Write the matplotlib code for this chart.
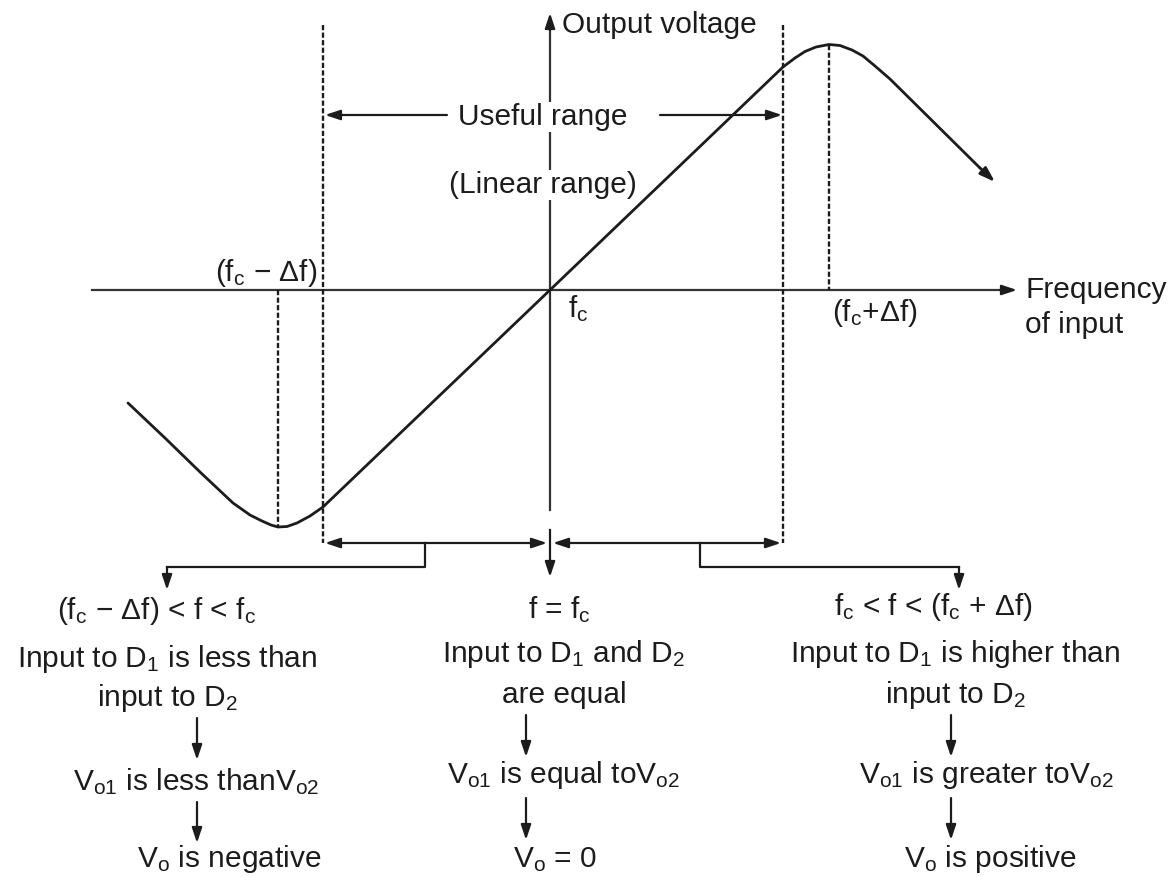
import matplotlib
matplotlib.use('Agg')
import matplotlib.pyplot as plt

plt.rcParams['font.family'] = ['Liberation Sans', 'DejaVu Sans']
plt.rcParams['mathtext.fontset'] = 'custom'
plt.rcParams['mathtext.rm'] = 'Liberation Sans'
plt.rcParams['mathtext.it'] = 'Liberation Sans'
plt.rcParams['mathtext.default'] = 'regular'

W, H = 1176, 877
INK = '#1c1c1c'
FS = 21.5

# ---- data (pixel coordinates, y downward) ----
curve_x = [128, 165, 200, 233, 250, 262, 271, 278, 287, 297, 310, 323, 550,
           783, 795, 805, 816, 829, 840, 852, 863, 875, 890, 980]
curve_y = [403, 438, 472, 503, 515, 521, 525, 527, 526.5, 523, 516, 507, 290,
           67, 58, 51.5, 47, 44.5, 45.5, 50, 56, 66, 79, 168]
curve_tip = (995, 182)

# vertical dashed markers: x, y_top, y_bottom
dashed_x = [323, 783, 278, 829]
dashed_top = [25, 25, 290, 45]
dashed_bottom = [543, 543, 527, 290]

# top-area labels: x, baseline y, text, ha
top_labels_x = [562, 543, 317, 568, 832, 1025, 1025]
top_labels_y = [33, 193, 281, 317, 321, 298, 333]
top_labels_s = ['Output voltage', '(Linear range)', '(f$_c$ − Δf)', 'f$_c$',
                '(f$_c$+Δf)', 'Frequency', 'of input']
top_labels_ha = ['left', 'center', 'right', 'left', 'left', 'left', 'left']

# three explanation columns
col_left = ['(f$_c$ − Δf) < f < f$_c$', 'Input to D$_1$ is less than',
            'input to D$_2$', 'V$_{o1}$ is less thanV$_{o2}$', 'V$_o$ is negative']
col_left_x = [156, 167, 167, 196, 229]
col_left_y = [619, 667, 706, 790, 867]

col_mid = ['f = f$_c$', 'Input to D$_1$ and D$_2$', 'are equal',
           'V$_{o1}$ is equal toV$_{o2}$', 'V$_o$ = 0']
col_mid_x = [559, 564, 564, 564, 555]
col_mid_y = [618, 662, 703, 783, 867]

col_right = ['f$_c$ < f < (f$_c$ + Δf)', 'Input to D$_1$ is higher than',
             'input to D$_2$', 'V$_{o1}$ is greater toV$_{o2}$', 'V$_o$ is positive']
col_right_x = [933, 955, 955, 986, 990]
col_right_y = [615, 662, 703, 783, 867]

# down arrows inside the columns: x, (y0, y1) pairs
down_arrow_x = [197, 526, 951]
down_arrow_y = [[(718, 760), (802, 843)], [(715, 757), (798, 840)], [(715, 757), (798, 840)]]

fig = plt.figure(figsize=(W / 100, H / 100), dpi=100)
ax = fig.add_axes([0, 0, 1, 1])
ax.set_xlim(0, W)
ax.set_ylim(H, 0)
ax.axis('off')

ASTYLE = '-|>,head_length=0.45,head_width=0.15'
DSTYLE = '<|-|>,head_length=0.45,head_width=0.15'


def arrow(x0, y0, x1, y1, style=ASTYLE, lw=1.6):
    ax.annotate('', xy=(x1, y1), xytext=(x0, y0),
                arrowprops=dict(arrowstyle=style, lw=lw, color=INK,
                                shrinkA=0, shrinkB=0, mutation_scale=20))


# axes
ax.plot([92, 1005], [290, 290], color='#333333', lw=1.6, zorder=2)
arrow(1000, 290, 1017, 290)
ax.plot([550, 550], [510, 25], color='#333333', lw=1.6, zorder=2)
arrow(550, 30, 550, 13)
ax.plot([550, 550], [530, 565], color=INK, lw=1.6)
arrow(550, 560, 550, 577)

# dashed markers
for x, y0, y1 in zip(dashed_x, dashed_top, dashed_bottom):
    ax.plot([x, x], [y0, y1], color=INK, lw=1.7, linestyle=(0, (2.2, 1.0)), zorder=2)

# curve
ax.plot(curve_x, curve_y, color=INK, lw=2.0, solid_capstyle='round', zorder=3)
arrow(curve_x[-1], curve_y[-1], curve_tip[0], curve_tip[1], lw=2.0)

# useful range
arrow(447, 115, 325, 115)
arrow(660, 115, 782, 115)
ax.text(543, 125, 'Useful range', ha='center', va='baseline', fontsize=FS, color=INK,
        zorder=5, bbox=dict(facecolor='white', edgecolor='none', pad=1))

# top labels
for x, y, s, ha in zip(top_labels_x, top_labels_y, top_labels_s, top_labels_ha):
    bb = dict(facecolor='white', edgecolor='none', pad=1) if s.startswith('(Linear') else None
    ax.text(x, y, s, ha=ha, va='baseline', fontsize=FS, color=INK, zorder=5, bbox=bb)

# range brackets
arrow(547, 543, 325, 543, style=DSTYLE)
arrow(553, 543, 781, 543, style=DSTYLE)

# connectors to columns
ax.plot([425, 425, 167], [543, 567, 567], color=INK, lw=1.6)
arrow(167, 567, 167, 590)
ax.plot([700, 700, 959], [543, 567, 567], color=INK, lw=1.6)
arrow(959, 567, 959, 590)

# columns
for strs, xs, ys in [(col_left, col_left_x, col_left_y),
                     (col_mid, col_mid_x, col_mid_y),
                     (col_right, col_right_x, col_right_y)]:
    for s, x, y in zip(strs, xs, ys):
        ax.text(x, y, s, ha='center', va='baseline', fontsize=FS, color=INK)

for x, pairs in zip(down_arrow_x, down_arrow_y):
    for y0, y1 in pairs:
        arrow(x, y0, x, y1)

fig.savefig('out.png', dpi=100, facecolor='white')
